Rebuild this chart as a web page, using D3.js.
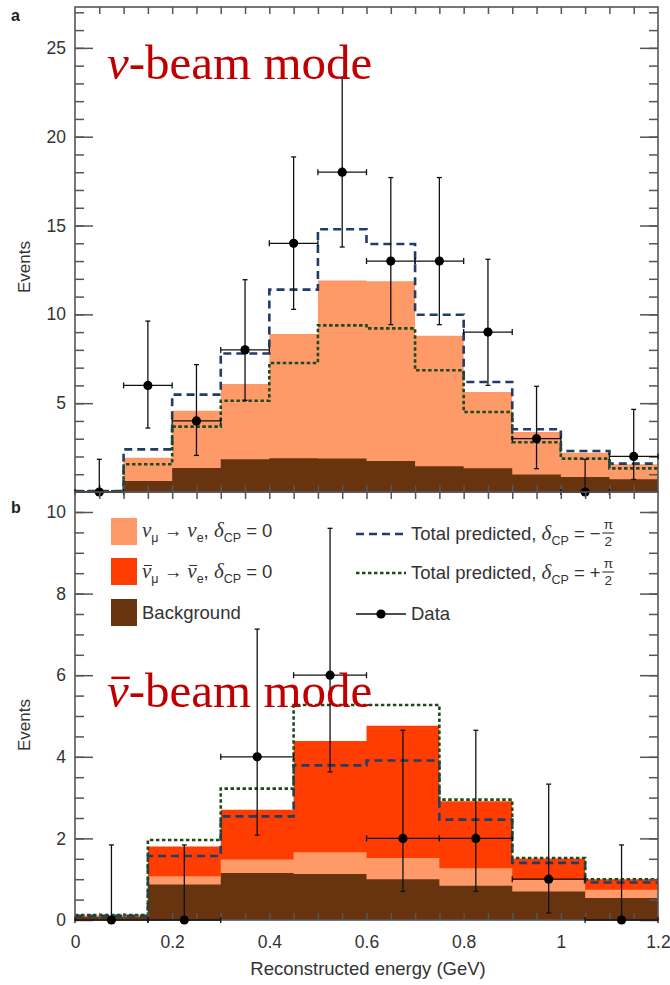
<!DOCTYPE html>
<html><head><meta charset="utf-8">
<script src="https://cdn.jsdelivr.net/npm/d3@7"></script>
<style>body{margin:0;background:#fff}svg{display:block}</style>
</head><body>
<svg id="c" width="670" height="985"></svg>
<script>
// ---------- DATA ----------
const topEdges = [0, 0.1, 0.2, 0.3, 0.4, 0.5, 0.6, 0.7, 0.8, 0.9, 1.0, 1.1, 1.2];
const topBackground = [0.02, 0.62, 1.35, 1.85, 1.90, 1.88, 1.75, 1.45, 1.33, 0.98, 0.85, 0.72];
const topNueSignal  = [0.01, 1.31, 3.23, 4.23, 6.99, 10.03, 10.11, 7.35, 4.30, 2.40, 1.36, 0.84];
const topPredMinus  = [0.05, 2.40, 5.48, 7.80, 11.39, 14.79, 13.96, 9.98, 6.19, 3.53, 2.31, 1.60];
const topPredPlus   = [0.04, 1.56, 3.68, 5.14, 7.26, 9.38, 9.21, 6.85, 4.50, 2.80, 1.88, 1.33];
const topData   = [0, 6, 4, 8, 14, 18, 13, 13, 9, 3, 0, 2];
const topErrLo  = [0, 3.60, 2.06, 5.16, 10.28, 13.79, 9.42, 9.42, 6.00, 1.31, 0, 0.71];
const topErrHi  = [1.84, 9.62, 7.17, 11.95, 18.86, 23.30, 17.70, 17.70, 13.10, 5.95, 1.84, 4.65];

const botEdges = [0, 0.15, 0.3, 0.45, 0.6, 0.75, 0.9, 1.05, 1.2];
const botBackground  = [0.08, 0.87, 1.15, 1.13, 1.00, 0.84, 0.70, 0.54];
const botNueSignal   = [0.02, 0.20, 0.33, 0.53, 0.52, 0.43, 0.28, 0.20];
const botNuebarSignal= [0.01, 0.73, 1.22, 2.73, 3.24, 1.64, 0.53, 0.26];
const botPredMinus   = [0.10, 1.57, 2.54, 3.79, 3.91, 2.46, 1.40, 0.92];
const botPredPlus    = [0.12, 1.96, 3.22, 5.27, 5.27, 2.95, 1.52, 1.00];
const botData   = [0, 0, 4, 6, 2, 2, 1, 0];
const botErrLo  = [0, 0, 2.08, 3.63, 0.70, 0.70, 0.17, 0];
const botErrHi  = [1.84, 1.84, 7.13, 9.60, 4.65, 4.65, 3.33, 1.84];

const topYTicks = [5, 10, 15, 20, 25];
const botYTicks = [0, 2, 4, 6, 8, 10];
const xTickLabels = [0, 0.2, 0.4, 0.6, 0.8, 1, 1.2];

// ---------- STYLE ----------
const C = {
  nue: "#fd9a68", nuebar: "#ff3d00", bg: "#683410",
  minus: "#1f3d68", plus: "#1f4a1f", frame: "#555", text: "#333", red: "#c00000"
};
const SANS = "'Liberation Sans', Arial, Helvetica, sans-serif";
const SERIF = "'Liberation Serif', 'Times New Roman', serif";

const svg = d3.select("#c");
const x = d3.scaleLinear([0, 1.2], [75, 658]);
const yTop = d3.scaleLinear([0, 27.3], [492, 7]);
const yBot = d3.scaleLinear([0, 10.49], [920, 492]);

function stepPts(edges, lo, hi) {
  const pts = hi.map((v, i) => ({x: edges[i], y0: lo[i], y1: v}));
  const n = hi.length - 1;
  pts.push({x: edges[n + 1], y0: lo[n], y1: hi[n]});
  return pts;
}

function panel(opts) {
  const {y, edges, layers, lines, data, lo, hi, yMax, majorTicks, minorStep, showXLabels, clipId} = opts;
  const top = y(y.domain()[1]), bot = y(0);
  const g = svg.append("g");
  g.append("clipPath").attr("id", clipId).append("rect")
    .attr("x", x(0)).attr("y", top).attr("width", x(1.2) - x(0)).attr("height", bot - top);
  const fills = g.append("g").attr("clip-path", `url(#${clipId})`);
  const area = d3.area().curve(d3.curveStepAfter)
    .x(d => x(d.x)).y0(d => y(d.y0)).y1(d => y(d.y1));
  let base = edges.slice(1).map(() => 0);
  const stacked = layers.map(L => {
    const hi2 = base.map((b, i) => b + L.values[i]);
    base = hi2;
    return {color: L.color, hi: hi2};
  });
  stacked.slice().reverse().forEach(s => {
    fills.append("path").attr("d", area(stepPts(edges, s.hi.map(() => 0), s.hi))).attr("fill", s.color);
  });
  const line = d3.line().curve(d3.curveStepAfter).x(d => x(d.x)).y(d => y(d.y1));
  lines.forEach(L => {
    fills.append("path").attr("d", line(stepPts(edges, L.values, L.values)))
      .attr("fill", "none").attr("stroke", L.color).attr("stroke-width", 2.6)
      .attr("stroke-dasharray", L.dash);
  });
  const ax = g.append("g").attr("color", C.frame).style("font-family", SANS);
  const minorVals = d3.range(0, yMax + 1e-9, minorStep).filter(v => v > 0);
  const xMinor = d3.range(0, 1.2001, 0.05).filter(v => v > 0.001 && v < 1.199);
  ax.append("g").attr("transform", `translate(${x(0)},0)`)
    .call(d3.axisLeft(y).tickValues(minorVals).tickSize(-9).tickFormat(""));
  ax.append("g").attr("transform", `translate(${x(0)},0)`)
    .call(d3.axisLeft(y).tickValues(majorTicks).tickSize(-18).tickPadding(9).tickFormat(d3.format("~g")));
  ax.append("g").attr("transform", `translate(${x(1.2)},0)`)
    .call(d3.axisRight(y).tickValues(minorVals).tickSize(-9).tickFormat(""));
  ax.append("g").attr("transform", `translate(${x(1.2)},0)`)
    .call(d3.axisRight(y).tickValues(majorTicks).tickSize(-18).tickFormat(""));
  ax.append("g").attr("transform", `translate(0,${top})`)
    .call(d3.axisTop(x).tickValues(xMinor).tickSize(-7).tickFormat(""));
  ax.append("g").attr("transform", `translate(0,${bot})`)
    .call(d3.axisBottom(x).tickValues(xMinor).tickSize(-7).tickFormat(""));
  if (showXLabels) {
    ax.append("g").attr("transform", `translate(0,${bot})`)
      .call(d3.axisBottom(x).tickValues(xTickLabels).tickSize(0).tickPadding(16).tickFormat(d3.format("~g")));
  }
  ax.selectAll(".domain").remove();
  ax.selectAll(".tick line").attr("stroke-width", 1.5);
  ax.selectAll("text").attr("fill", C.text).attr("font-size", 17.5);
  g.append("rect").attr("x", x(0)).attr("y", top).attr("width", x(1.2) - x(0)).attr("height", bot - top)
    .attr("fill", "none").attr("stroke", C.frame).attr("stroke-width", 1.6);
  const dg = g.append("g").attr("stroke", "#111").attr("stroke-width", 1.3);
  data.forEach((v, i) => {
    const a = edges[i], b = edges[i + 1], cx = x((a + b) / 2);
    dg.append("line").attr("x1", cx).attr("x2", cx).attr("y1", y(lo[i])).attr("y2", y(hi[i]));
    dg.append("line").attr("x1", cx - 2.5).attr("x2", cx + 2.5).attr("y1", y(hi[i])).attr("y2", y(hi[i]));
    if (lo[i] > 0) dg.append("line").attr("x1", cx - 2.5).attr("x2", cx + 2.5).attr("y1", y(lo[i])).attr("y2", y(lo[i]));
    dg.append("line").attr("x1", x(a)).attr("x2", x(b)).attr("y1", y(v)).attr("y2", y(v));
    [a, b].forEach(e => dg.append("line").attr("x1", x(e)).attr("x2", x(e)).attr("y1", y(v) - 3).attr("y2", y(v) + 3));
    dg.append("circle").attr("cx", cx).attr("cy", y(v)).attr("r", 4.6).attr("fill", "#000").attr("stroke", "none");
  });
  return g;
}

panel({
  y: yTop, edges: topEdges, clipId: "clipA",
  layers: [{values: topBackground, color: C.bg}, {values: topNueSignal, color: C.nue}],
  lines: [{values: topPredMinus, color: C.minus, dash: "8,5"}, {values: topPredPlus, color: C.plus, dash: "3.5,2.5"}],
  data: topData, lo: topErrLo, hi: topErrHi, yMax: 27.3, majorTicks: topYTicks, minorStep: 1, showXLabels: false
});
panel({
  y: yBot, edges: botEdges, clipId: "clipB",
  layers: [{values: botBackground, color: C.bg}, {values: botNueSignal, color: C.nue}, {values: botNuebarSignal, color: C.nuebar}],
  lines: [{values: botPredMinus, color: C.minus, dash: "8,5"}, {values: botPredPlus, color: C.plus, dash: "3.5,2.5"}],
  data: botData, lo: botErrLo, hi: botErrHi, yMax: 10.49, majorTicks: botYTicks, minorStep: 0.5, showXLabels: true
});

// panel letters and axis titles
svg.append("text").attr("x", 11).attr("y", 21).text("a")
  .attr("font-family", SANS).attr("font-weight", "bold").attr("font-size", 16).attr("fill", "#222");
svg.append("text").attr("x", 11).attr("y", 513).text("b")
  .attr("font-family", SANS).attr("font-weight", "bold").attr("font-size", 16).attr("fill", "#222");
[267, 725].forEach(cy => {
  svg.append("text").attr("transform", `translate(30,${cy}) rotate(-90)`).attr("text-anchor", "middle")
    .attr("font-family", SANS).attr("font-size", 17).attr("fill", C.text).text("Events");
});
svg.append("text").attr("x", 368).attr("y", 975).attr("text-anchor", "middle")
  .attr("font-family", SANS).attr("font-size", 18.5).attr("fill", C.text).text("Reconstructed energy (GeV)");

// overbar helper (for anti-neutrino symbols), placed with the glyph's own extent
function overbar(textNode, idx, fs, color, parent) {
  const e = textNode.getExtentOfChar(idx);
  const yb = e.y + e.height * 0.27;
  parent.append("line").attr("x1", e.x + e.width * 0.2).attr("x2", e.x + e.width * 1.05)
    .attr("y1", yb).attr("y2", yb).attr("stroke", color).attr("stroke-width", Math.max(1, fs * 0.05));
}

// red annotations
function beamLabel(xp, yp, anti) {
  const t = svg.append("text").attr("x", xp).attr("y", yp).attr("font-family", SERIF)
    .attr("font-size", 49).attr("fill", C.red);
  t.append("tspan").attr("font-style", "italic").text("ν");
  t.append("tspan").text("-beam mode");
  if (anti) overbar(t.node(), 0, 49, C.red, svg);
}
beamLabel(107, 79, false);
beamLabel(107, 707, true);

// legend
const lg = svg.append("g").attr("font-family", SANS).attr("fill", C.text);
const FS = 18.5;
function richText(xp, yp, parts) {
  const t = lg.append("text").attr("x", xp).attr("y", yp).attr("font-size", FS);
  let shift = 0, idx = 0;
  const bars = [];
  parts.forEach(p => {
    const s = t.append("tspan").text(p.t);
    const want = p.sub ? 5 : 0;
    if (want !== shift) { s.attr("dy", want - shift); shift = want; }
    if (p.sub) s.attr("font-size", 12.5);
    if (p.it) s.attr("font-family", SERIF).attr("font-style", "italic").attr("font-size", 21);
    if (p.bar) bars.push(idx);
    idx += p.t.length;
  });
  bars.forEach(i => overbar(t.node(), i, 21, C.text, lg));
  return {t, len: idx};
}
const sw = [[518, C.nue], [558, C.nuebar], [599, C.bg]];
sw.forEach(([yy, c]) => lg.append("rect").attr("x", 111).attr("y", yy).attr("width", 26).attr("height", 27).attr("fill", c));
richText(142, 537, [{t: "ν", it: 1}, {t: "μ", sub: 1}, {t: " → "}, {t: "ν", it: 1}, {t: "e", sub: 1}, {t: ", "}, {t: "δ", it: 1}, {t: "CP", sub: 1}, {t: " = 0"}]);
richText(142, 578, [{t: "ν", it: 1, bar: 1}, {t: "μ", sub: 1}, {t: " → "}, {t: "ν", it: 1, bar: 1}, {t: "e", sub: 1}, {t: ", "}, {t: "δ", it: 1}, {t: "CP", sub: 1}, {t: " = 0"}]);
richText(142, 619, [{t: "Background"}]);

function predEntry(yy, color, dash, sign) {
  lg.append("line").attr("x1", 356).attr("x2", 406).attr("y1", yy).attr("y2", yy)
    .attr("stroke", color).attr("stroke-width", 2.6).attr("stroke-dasharray", dash);
  const base = yy + 6;
  const r = richText(411, base, [{t: "Total predicted, "}, {t: "δ", it: 1}, {t: "CP", sub: 1}, {t: " = " + sign}]);
  const t = r.t;
  t.append("tspan").attr("font-size", 13.5).attr("dy", -11).attr("dx", 3).text("π");
  const e = t.node().getExtentOfChar(r.len);
  const cx = e.x + e.width / 2;
  t.append("tspan").attr("font-size", 13.5).attr("x", cx).attr("text-anchor", "middle").attr("dy", 17).text("2");
  lg.append("line").attr("x1", cx - 6).attr("x2", cx + 6).attr("y1", base - 7).attr("y2", base - 7)
    .attr("stroke", C.text).attr("stroke-width", 1.1);
}
predEntry(534, C.minus, "8,5", "−");
predEntry(573, C.plus, "3.5,2.5", "+");
lg.append("line").attr("x1", 356).attr("x2", 406).attr("y1", 614).attr("y2", 614).attr("stroke", "#111").attr("stroke-width", 1.3);
lg.append("circle").attr("cx", 381).attr("cy", 614).attr("r", 4.6).attr("fill", "#000");
richText(411, 620, [{t: "Data"}]);
</script>
</body></html>
